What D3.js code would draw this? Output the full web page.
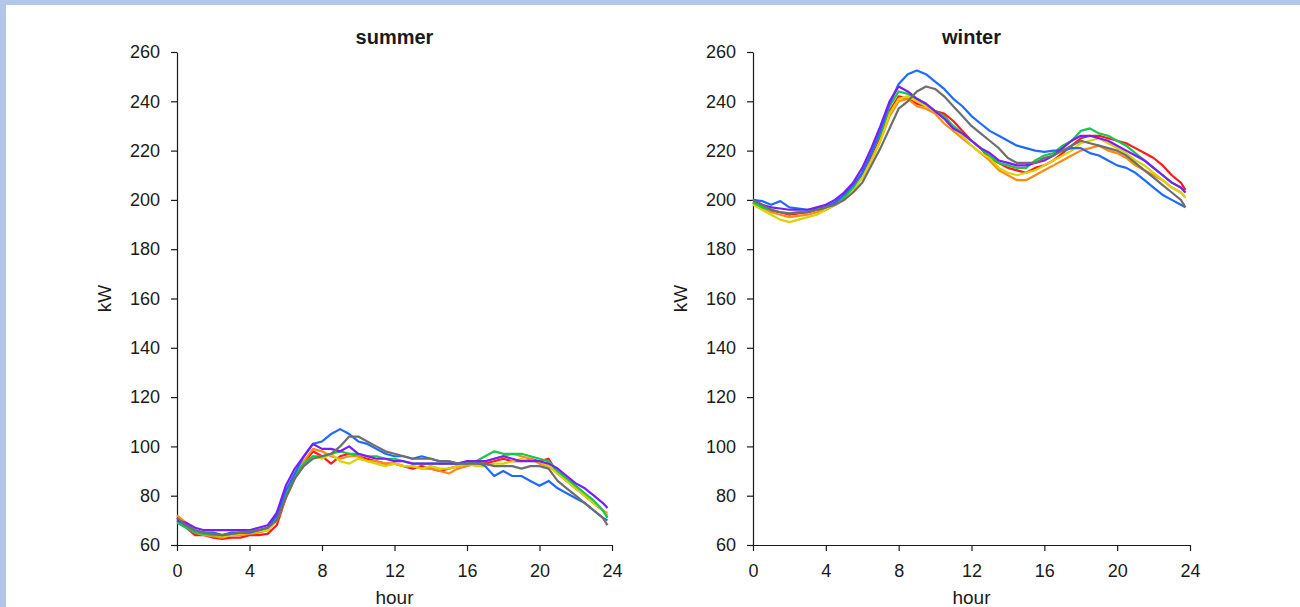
<!DOCTYPE html>
<html>
<head>
<meta charset="utf-8">
<script src="https://cdn.jsdelivr.net/npm/d3@7"></script>
<style>
  body { margin: 0; background: #fff; }
  text { font-family: "Liberation Sans", Arial, sans-serif; fill: #1a1a1a; }
</style>
</head>
<body>
<div id="chart"></div>
<script>
// half-hourly samples, last one at 23:45
const hours = d3.range(0, 24, 0.5).concat([23.75]);
const yTicks = [60, 80, 100, 120, 140, 160, 180, 200, 220, 240, 260];
const xTicks = [0, 4, 8, 12, 16, 20, 24];

const seriesNames = ["red", "orange", "yellow", "green", "blue", "purple", "gray"];
const seriesColors = ["#ff1a1a", "#ff8a14", "#d8d400", "#17c84a", "#1f6bff", "#7a1cff", "#6e6e6e"];

const summerRed    = [71,67,64,64,63,62.5,63,63,64,64,64.5,68,79,87,93,98,96,93,96,97,96,95,94,93,93,92,91,92,91,90,91,92,93,93,93,94,95,94,94,95,94,95,89,86,83,80,77,74,72];
const summerOrange = [72,69,65,64,63.5,63,64,64,64.5,65,66,70,80,88,94,99,98,96,95,96,96,94,94,93,93,92,92,91,91,90,89,91,92,93,94,95,96,97,96,95,93,92,89,86,83,80,77,74,73];
const summerYellow = [70,68,65,64.5,64,63.5,64,64.5,65,65.5,66,70,79,87,93,96,95,97,94,93,95,94,93,92,93,92,92,91,92,91,91,92,93,92,92,93,93,94,95,94,94,92,89,86,83,80,77,74,72];
const summerGreen  = [69,67,65,64.5,64,64,64.5,65,65,66,67,71,80,88,93,96,96,97,98,97,97,96,96,95,95,94,93,93,93,93,93,93,93,94,96,98,97,97,97,96,95,94,90,87,84,81,78,74,71];
const summerBlue   = [70,68,66,65,65,64,65,65,65,66,67,72,82,89,96,101,102,105,107,105,102,101,99,97,96,96,95,96,95,94,94,93,94,94,92,88,90,88,88,86,84,86,83,81,79,77,74,71,70];
const summerPurple = [70,69,67,66,66,66,66,66,66,67,68,73,84,91,96,101,99,99,98,100,97,96,95,95,94,94,93,93,93,93,93,93,94,94,94,95,96,95,94,94,94,93,91,88,85,83,80,77,75];
const summerGray   = [71,68,66,65,64.5,64,64.5,65,65.5,66,67,70,79,87,92,95,96,97,100,104,104,102,100,98,97,96,95,95,95,94,94,93,93,93,93,92,92,92,91,92,92,91,86,83,80,77,74,71,68];

const winterRed    = [199,197,195.5,195,194,194.5,195,196,196,198,200,204,210,218,226,236,242,241,239,238,236,235,232,228,224,221,217,215,213,212,211,213,214,216,219,222,225,226,226,225,224,223,221,219,217,214,210,207,204];
const winterOrange = [199,197,195,194,193,193.5,194,195,196,198,200,204,209,216,224,234,240,241,238,237,235,231,228,225,222,219,216,212,210,208,208,210,212,214,216,218,220,221,222,220,219,217,214,212,210,208,205,203,201];
const winterYellow = [198,196,194,192,191,192,193,194,196,198,200,204,209,216,224,235,241,242,240,238,236,233,229,226,222,219,217,213,211,210,211,212,214,216,218,220,223,224,225,223,221,219,216,214,211,208,205,203,201];
const winterGreen  = [199,197,196,195,194.5,195,195,196,197,199,201,205,211,219,227,238,244,243,241,239,236,234,230,227,224,221,218,215,214,213,213,216,218,219,222,224,228,229,227,226,224,222,219,216,213,210,207,205,203];
const winterBlue   = [200,199.5,198,199.5,197,196.5,196,196.5,197,199,202,206,211,219,228,239,247,251,252.5,251,248,245,241,238,234,231,228,226,224,222,221,220,219.5,220,220,221,221,219,218,216,214,213,211,208,205,202,200,198,197];
const winterPurple = [200,198,197,196.5,196,196,196,197,198,200,203,207,213,221,230,240,246,244,241,239,236,233,229,227,224,221,219,216,215,214,214,215,216,218,221,224,226,226,225,224,222,220,218,216,213,210,207,205,203];
const winterGray   = [200,198,196,195,194.5,195,195,196,197,198,200,203,207,214,221,229,237,240,244,246,245,242,238,234,230,227,224,221,217,215,215,215,217,218,220,222,224,223,222,221,220,218,215,212,209,206,203,200,197];

const summer = [summerRed, summerOrange, summerYellow, summerGreen, summerBlue, summerPurple, summerGray];
const winter = [winterRed, winterOrange, winterYellow, winterGreen, winterBlue, winterPurple, winterGray];

const width = 1300, height = 607;
const svg = d3.select("#chart").append("svg")
    .attr("width", width)
    .attr("height", height)
    .style("display", "block");

svg.append("rect").attr("width", width).attr("height", height).attr("fill", "#fff");
// slide frame
svg.append("rect").attr("x", 0).attr("y", 0).attr("width", width).attr("height", 5).attr("fill", "#b3c6e7");
svg.append("rect").attr("x", 0).attr("y", 0).attr("width", 6).attr("height", height).attr("fill", "#b3c6e7");

function drawPanel(title, left, right, data) {
    const top = 52, bottom = 545;
    const x = d3.scaleLinear().domain([0, 24]).range([left, right]);
    const y = d3.scaleLinear().domain([60, 260]).range([bottom, top]);

    const g = svg.append("g");

    const yAxis = g.append("g")
        .attr("transform", `translate(${left},0)`)
        .call(d3.axisLeft(y).tickValues(yTicks).tickSize(6).tickSizeOuter(0).tickPadding(11));
    yAxis.selectAll("text").style("font-size", "18px");

    const xAxis = g.append("g")
        .attr("transform", `translate(0,${bottom})`)
        .call(d3.axisBottom(x).tickValues(xTicks).tickSize(6).tickSizeOuter(0).tickPadding(13));
    xAxis.selectAll("text").style("font-size", "18px");

    g.selectAll(".domain, .tick line").attr("stroke", "#1a1a1a").attr("stroke-width", 1.2);

    const line = d3.line()
        .x((d, i) => x(hours[i]))
        .y(d => y(d));

    data.forEach((vals, k) => {
        g.append("path")
            .datum(vals)
            .attr("fill", "none")
            .attr("stroke", seriesColors[k])
            .attr("stroke-width", 2.2)
            .attr("stroke-linejoin", "round")
            .attr("d", line);
    });

    g.append("text")
        .attr("x", (left + right) / 2)
        .attr("y", 44)
        .attr("text-anchor", "middle")
        .style("font-size", "20px")
        .style("font-weight", "bold")
        .text(title);

    g.append("text")
        .attr("x", (left + right) / 2)
        .attr("y", 604)
        .attr("text-anchor", "middle")
        .style("font-size", "19px")
        .text("hour");

    g.append("text")
        .attr("transform", `translate(${left - 66},${(top + bottom) / 2}) rotate(-90)`)
        .attr("text-anchor", "middle")
        .style("font-size", "19px")
        .text("kW");
}

drawPanel("summer", 177, 612, summer);
drawPanel("winter", 753, 1190, winter);
</script>
</body>
</html>
